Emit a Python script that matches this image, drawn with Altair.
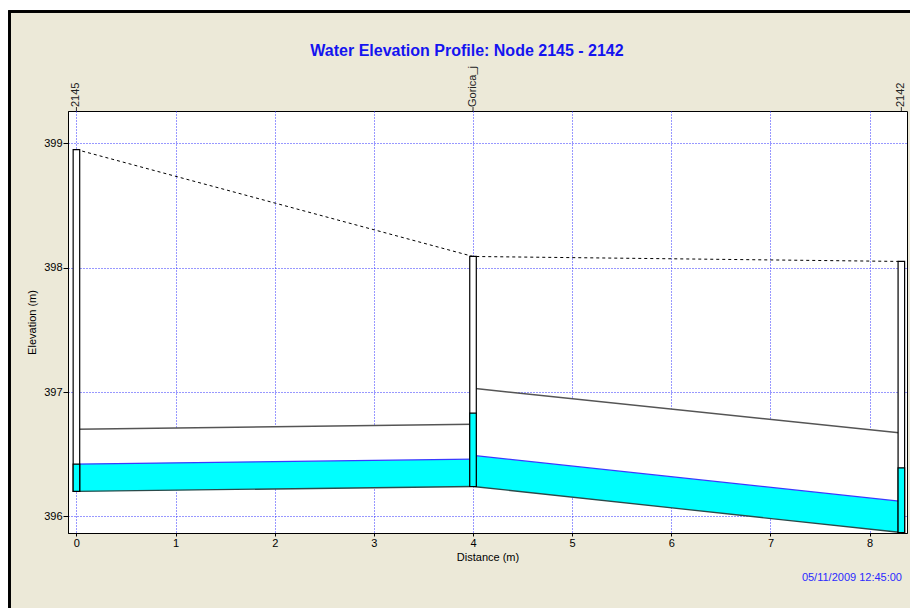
import altair as alt
import pandas as pd

# ---------------- data ----------------
node_names = ["2145", "Gorica_j", "2142"]
node_dist = [0.0, 4.0, 8.32]
node_invert = [396.20, 396.24, 395.87]
node_rim = [398.95, 398.09, 398.05]
node_water = [396.42, 396.83, 396.39]

link_names = ["2145-Gorica_j", "Gorica_j-2142"]
link_start_dist = [0.0, 4.0]
link_end_dist = [4.0, 8.32]
link_start_invert = [396.20, 396.24]
link_end_invert = [396.24, 395.87]
link_start_crown = [396.70, 397.03]
link_end_crown = [396.74, 396.67]
link_start_water = [396.42, 396.49]
link_end_water = [396.46, 396.12]

x_ticks = [i * 0.25 for i in range(34)]
y_ticks = [396 + i * 0.25 for i in range(14)]

title_text = "Water Elevation Profile:  Node 2145 - 2142"
date_text = "05/11/2009 12:45:00"

# ---------------- tables ----------------
nodes = pd.DataFrame({
    "name": node_names, "dist": node_dist, "invert": node_invert,
    "rim": node_rim, "water": node_water,
})
rows = []
for i, n in enumerate(link_names):
    rows.append({"link": n, "dist": link_start_dist[i], "invert": link_start_invert[i],
                 "crown": link_start_crown[i], "water": link_start_water[i]})
    rows.append({"link": n, "dist": link_end_dist[i], "invert": link_end_invert[i],
                 "crown": link_end_crown[i], "water": link_end_water[i]})
links = pd.DataFrame(rows)

W, H = 839, 422
FONT = "Liberation Sans"
NODE_HW = 0.033

xs = alt.Scale(domain=[-0.085, 8.377], nice=False, zero=False)
ys = alt.Scale(domain=[395.866, 399.26], nice=False, zero=False)

grid_cond = {"condition": {"test": "datum.value % 1 !== 0", "value": 0}, "value": 1}

x_axis = alt.Axis(
    values=x_ticks, title="Distance (m)", labelExpr="datum.value % 1 === 0 ? datum.label : ''",
    format="d", grid=True, gridOpacity=grid_cond, gridColor="#3030ff", gridDash=[1, 2],
    tickSize=3, tickColor="#000", domainColor="#000", labelColor="#000",
    labelFont=FONT, labelFontSize=11, labelPadding=1, titleFont=FONT, titleFontSize=11,
    titleFontWeight="normal", titleColor="#000", titlePadding=3, labelFlush=False,
)
y_axis = alt.Axis(
    values=y_ticks, title="Elevation (m)", labelExpr="datum.value % 1 === 0 ? datum.label : ''",
    format="d", grid=True, gridOpacity=grid_cond, gridColor="#3030ff", gridDash=[1, 2],
    tickSize=5, tickColor="#000", domainColor="#000", labelColor="#000",
    labelFont=FONT, labelFontSize=11, labelPadding=1, titleFont=FONT, titleFontSize=11,
    titleFontWeight="normal", titleColor="#000", titlePadding=6, labelFlush=False,
)

X = lambda f="dist": alt.X(f"{f}:Q", scale=xs, axis=x_axis)
base_links = alt.Chart(links)
base_nodes = alt.Chart(nodes)

# frame pieces (outside the plot area)
frame_white1 = alt.Chart(nodes).mark_rect(color="white", clip=False).encode(
    x=alt.value(-70), x2=alt.value(-59), y=alt.value(-115), y2=alt.value(500))
frame_white2 = alt.Chart(nodes).mark_rect(color="white", clip=False).encode(
    x=alt.value(-70), x2=alt.value(850), y=alt.value(-115), y2=alt.value(-100))
frame_border = alt.Chart(nodes).mark_rect(filled=False, stroke="#000", strokeWidth=2.5, clip=False).encode(
    x=alt.value(-58.5), x2=alt.value(980), y=alt.value(-99.5), y2=alt.value(700))

# conduits
conduit_white = base_links.mark_area(color="white", opacity=1).encode(
    x=X(), y=alt.Y("crown:Q", scale=ys, axis=y_axis), y2="invert:Q", detail="link:N")
conduit_water = base_links.mark_area(color="#00ffff", opacity=1).encode(
    x=X(), y=alt.Y("water:Q", scale=ys), y2="invert:Q", detail="link:N")
crown_line = base_links.mark_line(color="#555555", strokeWidth=1.5).encode(
    x=X(), y=alt.Y("crown:Q", scale=ys), detail="link:N")
water_line = base_links.mark_line(color="#3a3aff", strokeWidth=1.2).encode(
    x=X(), y=alt.Y("water:Q", scale=ys), detail="link:N")
invert_line = base_links.mark_line(color="#2a4a4a", strokeWidth=1.3).encode(
    x=X(), y=alt.Y("invert:Q", scale=ys), detail="link:N")

# ground / rim dashed line
rim_line = base_nodes.mark_line(color="#000", strokeWidth=1, strokeDash=[3, 3]).encode(
    x=X(), y=alt.Y("rim:Q", scale=ys))

# nodes
node_calc = base_nodes.transform_calculate(x0=f"datum.dist - {NODE_HW}", x1=f"datum.dist + {NODE_HW}")
node_box = node_calc.mark_rect(fill="white", stroke="#000", strokeWidth=1.2).encode(
    x=alt.X("x0:Q", scale=xs), x2="x1:Q", y=alt.Y("rim:Q", scale=ys), y2="invert:Q")
node_fill = node_calc.mark_rect(fill="#00ffff", stroke="#000", strokeWidth=1.2).encode(
    x=alt.X("x0:Q", scale=xs), x2="x1:Q", y=alt.Y("water:Q", scale=ys), y2="invert:Q")

# node labels above the plot
node_ticks = base_nodes.mark_rule(color="#333", strokeWidth=1, clip=False).encode(
    x=X(), y=alt.value(-4), y2=alt.value(0))
node_labels = base_nodes.mark_text(angle=270, align="left", baseline="middle", font=FONT,
                                   fontSize=11, color="#222", clip=False).encode(
    x=X(), y=alt.value(-4), text="name:N")

# title and date stamp
title_mark = alt.Chart(nodes).transform_filter("datum.name == '2145'").mark_text(
    font=FONT, fontSize=16, fontWeight="bold", color="#1414f0", align="center",
    baseline="middle", clip=False).encode(
    x=alt.value(399), y=alt.value(-60.5), text=alt.value(title_text))
date_mark = alt.Chart(nodes).transform_filter("datum.name == '2145'").mark_text(
    font=FONT, fontSize=11, color="#2a2aff", align="right", baseline="middle", clip=False).encode(
    x=alt.value(834), y=alt.value(466.5), text=alt.value(date_text))

chart = alt.layer(
    frame_white1, frame_white2, frame_border,
    conduit_white, conduit_water, crown_line, invert_line, water_line,
    rim_line, node_box, node_fill, node_ticks, node_labels, title_mark, date_mark,
).properties(
    width=W, height=H,
    autosize=alt.AutoSizeParams(type="none"),
    padding={"left": 68, "top": 111, "right": 3, "bottom": 75},
    background="#ECE9D8",
).configure_view(fill="white", stroke="#000", strokeWidth=1)

chart.save("out.html", embed_options={"renderer": "svg", "actions": False})
